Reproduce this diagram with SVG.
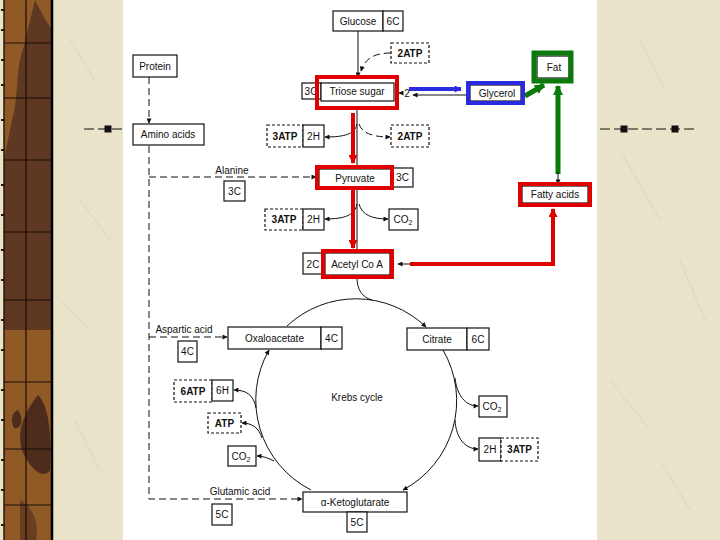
<svg xmlns="http://www.w3.org/2000/svg" width="720" height="540" viewBox="0 0 720 540">
<defs>
<style>
.t{font-family:"Liberation Sans",Arial,sans-serif;font-size:10px;fill:#111;text-anchor:middle}
.tb{font-family:"Liberation Sans",Arial,sans-serif;font-size:10px;font-weight:bold;fill:#111;text-anchor:middle}
.b{fill:#fff;stroke:#111;stroke-width:1.2}
.d{fill:#fff;stroke:#111;stroke-width:1.2;stroke-dasharray:3 2}
.ln{fill:none;stroke:#111;stroke-width:1}
.dl{fill:none;stroke:#111;stroke-width:1;stroke-dasharray:7 4}
.red{fill:none;stroke:#e00000;stroke-width:4}
.wd{stroke:#1a0d06;stroke-width:1.2}
</style>
<marker id="ah" viewBox="0 0 10 10" refX="9" refY="5" markerWidth="7" markerHeight="5" markerUnits="userSpaceOnUse" orient="auto"><path d="M0,0L10,5L0,10z" fill="#111"/></marker>
<marker id="ar" viewBox="0 0 10 10" refX="9" refY="5" markerWidth="10" markerHeight="9" markerUnits="userSpaceOnUse" orient="auto"><path d="M0,0L10,5L0,10z" fill="#e00000"/></marker>
<marker id="ab" viewBox="0 0 10 10" refX="9" refY="5" markerWidth="9" markerHeight="7" markerUnits="userSpaceOnUse" orient="auto"><path d="M0,0L10,5L0,10z" fill="#2a2ae0"/></marker>
<marker id="ag" viewBox="0 0 10 10" refX="9" refY="5" markerWidth="11" markerHeight="10" markerUnits="userSpaceOnUse" orient="auto"><path d="M0,0L10,5L0,10z" fill="#0a7a0a"/></marker>
</defs>

<!-- background -->
<rect x="0" y="0" width="720" height="540" fill="#e8e3c9"/>
<g stroke="#dcd6ba" stroke-width="1" fill="none">
<path d="M70,40 L95,80"/><path d="M80,200 L110,240"/><path d="M60,300 L90,330"/><path d="M75,420 L100,470"/>
<path d="M640,40 L665,90"/><path d="M620,150 L660,220"/><path d="M680,260 L705,320"/><path d="M610,380 L650,430"/><path d="M660,460 L690,510"/>
</g>

<!-- wood strip -->
<g id="wood">
<rect x="4" y="0" width="48" height="540" fill="#5e3822"/>
<path d="M4,0 L35,0 C30,20 26,40 20,60 C16,80 18,100 12,120 C8,140 6,150 4,160 Z" fill="#8f5a26"/>
<path d="M35,0 L52,0 L52,30 C45,20 40,10 35,0 Z" fill="#8f5a26"/>
<path d="M4,330 L52,330 L52,540 L4,540 Z" fill="#8f5a26"/>
<path d="M38,395 C48,405 52,430 50,470 C44,480 30,470 22,450 C16,430 26,410 38,395 Z M18,410 C24,418 22,430 14,428 C10,420 12,412 18,410 Z" fill="#4e2c1c"/>
<path d="M20,500 C30,505 40,520 36,540 L20,540 Z" fill="#4e2c1c" opacity="0.6"/>
<line class="wd" x1="26" y1="0" x2="26" y2="540"/>
<line class="wd" x1="4" y1="43" x2="52" y2="43"/>
<line class="wd" x1="4" y1="98" x2="52" y2="98"/>
<line class="wd" x1="4" y1="160" x2="52" y2="160"/>
<line class="wd" x1="4" y1="232" x2="52" y2="232"/>
<line class="wd" x1="4" y1="300" x2="52" y2="300"/>
<line class="wd" x1="4" y1="382" x2="52" y2="382"/>
<line class="wd" x1="4" y1="449" x2="52" y2="449"/>
<line class="wd" x1="4" y1="505" x2="52" y2="505"/>
<line x1="52" y1="0" x2="52" y2="540" stroke="#000" stroke-width="2.5"/>
<line x1="4" y1="0" x2="4" y2="540" stroke="#2a160a" stroke-width="1.5"/>
<path d="M1,10h4M1,30h4M1,60h4M1,85h4M1,120h4M1,150h4M1,185h4M1,215h4M1,250h4M1,280h4M1,320h4M1,350h4M1,390h4M1,420h4M1,460h4M1,490h4M1,525h4" stroke="#2a160a" stroke-width="2"/>
</g>

<!-- white panel -->
<rect x="123" y="0" width="474" height="540" fill="#ffffff"/>

<!-- decorative lines -->
<g id="deco" stroke="#111" stroke-width="1">
<path d="M84,129H122" stroke-dasharray="10 4"/>
<rect x="105" y="126" width="6" height="6" fill="#111"/>
<path d="M600,129H696" stroke-dasharray="10 4"/>
<rect x="621" y="126" width="6" height="6" fill="#111"/>
<rect x="672" y="126" width="6" height="6" fill="#111"/>
</g>

<!-- connectors -->
<g id="connectors">
<path class="ln" d="M358,31V77" marker-end="url(#ah)"/>
<path class="dl" d="M391,53 C375,53 365,58 361,71" stroke-dasharray="4 3" marker-end="url(#ah)"/>
<path class="ln" d="M357,108V166"/>
<path class="ln" d="M357,124 C355,134 345,137 325,137" marker-end="url(#ah)"/>
<path class="dl" d="M359,124 C362,133 372,137 390,137" stroke-dasharray="4 3" marker-end="url(#ah)"/>
<path class="ln" d="M357,188V251"/>
<path class="ln" d="M357,204 C355,215 345,219 325,219" marker-end="url(#ah)"/>
<path class="ln" d="M359,204 C362,215 372,219 388,219" marker-end="url(#ah)"/>
<path class="red" d="M353,113V163" marker-end="url(#ar)"/>
<path class="red" d="M353,190V248" marker-end="url(#ar)"/>
<path class="red" d="M410,264H553V209" marker-end="url(#ar)"/>
<path class="ln" d="M410,264H398" marker-end="url(#ah)"/>
<!-- glycerol exchange -->
<path d="M409,89H461" fill="none" stroke="#2a2ae0" stroke-width="4" marker-end="url(#ab)"/>
<path class="ln" d="M466,95H413" marker-end="url(#ah)"/>
<path class="ln" d="M403,93H399" marker-end="url(#ah)"/>
<text class="t" x="407" y="97">2</text>
<!-- green -->
<path d="M525,96 L544,85" fill="none" stroke="#0a7a0a" stroke-width="5" marker-end="url(#ag)"/>
<path d="M558,174 V86" fill="none" stroke="#0a7a0a" stroke-width="5" marker-end="url(#ag)"/>
<path class="ln" d="M558,172V184" marker-end="url(#ah)"/>
<!-- protein / amino acids -->
<path class="dl" d="M149,77V123" marker-end="url(#ah)"/>
<path class="dl" d="M149,146V499H302" marker-end="url(#ah)"/>
<path class="dl" d="M149,177H316" marker-end="url(#ah)"/>
<path class="dl" d="M149,337H227" marker-end="url(#ah)"/>
<!-- krebs cycle -->
<path class="ln" d="M357,277 C357,290 362,297 372,300"/>
<path class="ln" d="M287,326 A101,101 0 0,1 426,327" marker-end="url(#ah)"/>
<path class="ln" d="M443,350 A101,101 0 0,1 403,490" marker-end="url(#ah)"/>
<path class="ln" d="M311,490 A101,101 0 0,1 269,350" marker-end="url(#ah)"/>
<path class="ln" d="M455,378 C457,395 465,406 478,406" marker-end="url(#ah)"/>
<path class="ln" d="M455,420 C456,438 465,449 478,449" marker-end="url(#ah)"/>
<path class="ln" d="M256,408 C254,395 246,390 234,390" marker-end="url(#ah)"/>
<path class="ln" d="M262,438 C259,428 252,423 242,423" marker-end="url(#ah)"/>
<path class="ln" d="M274,461 C268,458 263,456 257,456" marker-end="url(#ah)"/>
</g>

<!-- nodes -->
<g id="glucose">
<rect class="b" x="333" y="11" width="50" height="20"/><rect class="b" x="383" y="11" width="20" height="20"/>
<text class="t" x="358" y="25">Glucose</text><text class="t" x="393" y="25">6C</text>
</g>
<g id="atp-glucose"><rect class="d" x="391" y="43" width="38" height="20"/><text class="tb" x="410" y="57">2ATP</text></g>
<g id="triose">
<rect class="b" x="302" y="83" width="19" height="16"/><rect class="b" x="321" y="83" width="73" height="18"/>
<text class="t" x="311" y="95">3C</text><text class="t" x="357" y="95">Triose sugar</text>
<rect x="317" y="77" width="80" height="31" fill="none" stroke="#e00000" stroke-width="4"/>
</g>
<g id="glycerol">
<rect class="b" x="470" y="85" width="51" height="16"/>
<text class="t" x="497" y="97">Glycerol</text>
<rect x="468" y="83" width="55" height="20" fill="none" stroke="#2a2ae0" stroke-width="4"/>
</g>
<g id="fat">
<rect class="b" x="537" y="56" width="32" height="22"/>
<text class="t" x="554" y="71">Fat</text>
<rect x="534" y="53" width="37" height="28" fill="none" stroke="#0a7a0a" stroke-width="5"/>
</g>
<g id="protein"><rect class="b" x="133" y="55" width="44" height="22"/><text class="t" x="155" y="70">Protein</text></g>
<g id="amino"><rect class="b" x="133" y="124" width="71" height="21"/><text class="t" x="168" y="138">Amino acids</text></g>
<g id="atp-triose-l">
<rect class="d" x="267" y="125" width="36" height="22"/><rect class="b" x="303" y="125" width="21" height="22"/>
<text class="tb" x="285" y="140">3ATP</text><text class="t" x="313.5" y="140">2H</text>
</g>
<g id="atp-triose-r"><rect class="d" x="391" y="125" width="38" height="22"/><text class="tb" x="410" y="140">2ATP</text></g>
<g id="alanine">
<text class="t" x="232" y="174">Alanine</text>
<rect class="b" x="224" y="181" width="21" height="20"/><text class="t" x="234.5" y="195">3C</text>
</g>
<g id="pyruvate">
<rect class="b" x="319" y="169" width="73" height="18"/><rect class="b" x="392" y="168" width="21" height="19"/>
<text class="t" x="355" y="182">Pyruvate</text><text class="t" x="402.5" y="181">3C</text>
<rect x="317" y="167" width="75" height="21" fill="none" stroke="#e00000" stroke-width="4"/>
</g>
<g id="fatty">
<rect class="b" x="522" y="186" width="66" height="17"/>
<text class="t" x="555" y="198">Fatty acids</text>
<rect x="520" y="184" width="70" height="21" fill="none" stroke="#e00000" stroke-width="4"/>
</g>
<g id="atp-pyr">
<rect class="d" x="265" y="209" width="38" height="21"/><rect class="b" x="303" y="209" width="21" height="21"/>
<text class="tb" x="284" y="223">3ATP</text><text class="t" x="313.5" y="223">2H</text>
</g>
<g id="co2-pyr"><rect class="b" x="389" y="209" width="29" height="21"/><text class="t" x="403" y="223">CO<tspan font-size="7" dy="2">2</tspan></text></g>
<g id="acetyl">
<rect class="b" x="303" y="253" width="20" height="21"/><rect class="b" x="325" y="253" width="65" height="22"/>
<text class="t" x="313" y="268">2C</text><text class="t" x="357" y="268">Acetyl Co A</text>
<rect x="323" y="251" width="69" height="26" fill="none" stroke="#e00000" stroke-width="4"/>
</g>
<g id="aspartic">
<text class="t" x="184" y="333">Aspartic acid</text>
<rect class="b" x="178" y="341" width="19" height="21"/><text class="t" x="187.5" y="355">4C</text>
</g>
<g id="oxaloacetate">
<rect class="b" x="228" y="327" width="93" height="22"/><rect class="b" x="321" y="327" width="21" height="22"/>
<text class="t" x="274.5" y="342">Oxaloacetate</text><text class="t" x="331.5" y="342">4C</text>
</g>
<g id="citrate">
<rect class="b" x="407" y="328" width="60" height="22"/><rect class="b" x="467" y="328" width="22" height="22"/>
<text class="t" x="437" y="343">Citrate</text><text class="t" x="478" y="343">6C</text>
</g>
<g id="krebs"><text class="t" x="357" y="401" font-size="11">Krebs cycle</text></g>
<g id="co2-r"><rect class="b" x="479" y="396" width="28" height="21"/><text class="t" x="492" y="410">CO<tspan font-size="7" dy="2">2</tspan></text></g>
<g id="atp-r">
<rect class="b" x="479" y="438" width="22" height="23"/><rect class="d" x="501" y="438" width="37" height="23"/>
<text class="t" x="490" y="453">2H</text><text class="tb" x="519.5" y="453">3ATP</text>
</g>
<g id="atp-6">
<rect class="d" x="174" y="380" width="38" height="22"/><rect class="b" x="212" y="380" width="21" height="21"/>
<text class="tb" x="193" y="395">6ATP</text><text class="t" x="222.5" y="394">6H</text>
</g>
<g id="atp-1"><rect class="d" x="208" y="413" width="33" height="20"/><text class="tb" x="224.5" y="427">ATP</text></g>
<g id="co2-l"><rect class="b" x="228" y="446" width="28" height="20"/><text class="t" x="241" y="460">CO<tspan font-size="7" dy="2">2</tspan></text></g>
<g id="glutamic">
<text class="t" x="240" y="495">Glutamic acid</text>
<rect class="b" x="212" y="504" width="20" height="21"/><text class="t" x="222" y="518">5C</text>
</g>
<g id="ketoglutarate">
<rect class="b" x="303" y="492" width="104" height="20"/>
<text class="t" x="355" y="506">α-Ketoglutarate</text>
<rect class="b" x="347" y="512" width="20" height="20"/><text class="t" x="357" y="526">5C</text>
</g>
</svg>
